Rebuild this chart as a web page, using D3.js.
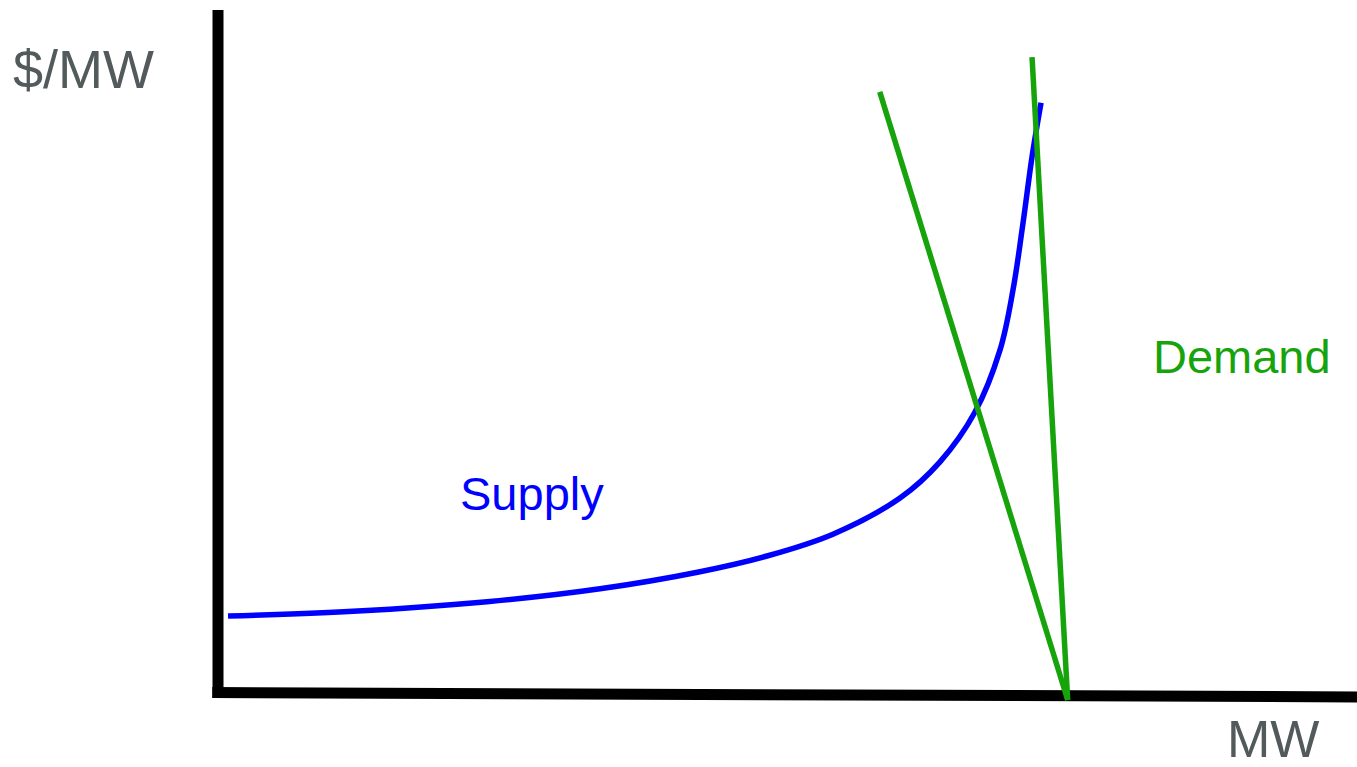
<!DOCTYPE html>
<html>
<head>
<meta charset="utf-8">
<script src="https://cdn.jsdelivr.net/npm/d3@7"></script>
<style>
  html, body { margin: 0; padding: 0; background: #fff; }
  svg { display: block; }
</style>
</head>
<body>
<svg id="chart" width="1357" height="767"></svg>
<script>
// Supply curve points: MW, $/MW (arbitrary units)
const supplyMW    = [8.8, 118.5, 236.2, 335.4, 423.2, 482.0, 539.9, 598.8, 633.9, 664.6, 686.6, 698.0, 706.8, 714.7, 722.6];
const supplyPrice = [11.2, 11.9, 13.3, 15.2, 17.7, 20.0, 23.2, 28.5, 33.8, 41.1, 50.2, 59.0, 68.8, 78.5, 86.4];

// Two demand lines (start and end points)
const demandElasticMW    = [581, 746];
const demandElasticPrice = [88.0, -1.1];
const demandSteepMW      = [714.7, 746];
const demandSteepPrice   = [93.1, -1.1];

// Axis lines
const yAxisMW    = [0, 0];
const yAxisPrice = [100, -0.8];
const xAxisMW    = [-5, 1000];
const xAxisPrice = [0, -0.65];

const labels = { yTitle: "$/MW", xTitle: "MW", supply: "Supply", demand: "Demand" };

const svg = d3.select("#chart");
const x = d3.scaleLinear().domain([0, 1000]).range([218, 1357]);
const y = d3.scaleLinear().domain([0, 100]).range([692.5, 10]);

const line = d3.line().x(d => x(d[0])).y(d => y(d[1]));
const zip = (a, b) => a.map((v, i) => [v, b[i]]);

// axes
svg.append("path").attr("d", line(zip(yAxisMW, yAxisPrice)))
  .attr("stroke", "#000").attr("stroke-width", 11).attr("fill", "none");
svg.append("path").attr("d", line(zip(xAxisMW, xAxisPrice)))
  .attr("stroke", "#000").attr("stroke-width", 11).attr("fill", "none");

// supply
svg.append("path")
  .attr("d", d3.line().x(d => x(d[0])).y(d => y(d[1])).curve(d3.curveCatmullRom.alpha(0.5))(zip(supplyMW, supplyPrice)))
  .attr("stroke", "#0000ff").attr("stroke-width", 5.5).attr("fill", "none");

// demand
const green = "#17a30c";
svg.append("path").attr("d", line(zip(demandElasticMW, demandElasticPrice)))
  .attr("stroke", green).attr("stroke-width", 5.5).attr("fill", "none");
svg.append("path").attr("d", line(zip(demandSteepMW, demandSteepPrice)))
  .attr("stroke", green).attr("stroke-width", 5.5).attr("fill", "none");

const font = "'Liberation Sans', Arial, sans-serif";
svg.append("text").attr("x", 13).attr("y", 88).text(labels.yTitle)
  .attr("font-family", font).attr("font-size", 54).attr("fill", "#525a5c");
svg.append("text").attr("x", 1227).attr("y", 757).text(labels.xTitle)
  .attr("font-family", font).attr("font-size", 52).attr("fill", "#525a5c");
svg.append("text").attr("x", 460).attr("y", 510).text(labels.supply)
  .attr("font-family", font).attr("font-size", 47).attr("fill", "#0000ff");
svg.append("text").attr("x", 1153).attr("y", 373).text(labels.demand)
  .attr("font-family", font).attr("font-size", 47).attr("fill", green);
</script>
</body>
</html>
